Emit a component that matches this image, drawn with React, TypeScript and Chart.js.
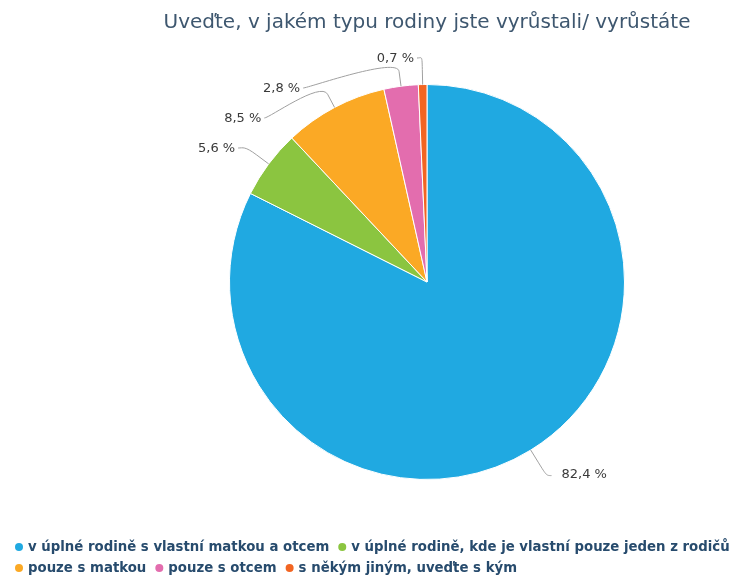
import { useEffect, useRef } from "react";
import { Chart, registerables } from "chart.js";

Chart.register(...registerables);

const TITLE = "Uveďte, v jakém typu rodiny jste vyrůstali/ vyrůstáte";
const CATEGORIES = [
  "v úplné rodině s vlastní matkou a otcem",
  "v úplné rodině, kde je vlastní pouze jeden z rodičů",
  "pouze s matkou",
  "pouze s otcem",
  "s někým jiným, uveďte s kým",
];
const VALUES = [82.4, 5.6, 8.5, 2.8, 0.7];
const VALUE_LABELS = ["82,4 %", "5,6 %", "8,5 %", "2,8 %", "0,7 %"];
const COLORS = ["#20A9E1", "#8BC540", "#FBA925", "#E36DAE", "#F26522"];

const TITLE_FONT = "20px 'DejaVu Sans', sans-serif";
const TITLE_COLOR = "#3E576F";
const LEGEND_FONT = "bold 13.3px 'DejaVu Sans', sans-serif";
const LEGEND_COLOR = "#274B6D";
const LABEL_FONT = "13px 'DejaVu Sans', sans-serif";
const LABEL_COLOR = "#3A3A3A";
const CONNECTOR_COLOR = "#A0A0A0";

const overlayPlugin = {
  id: "overlay",
  afterDraw(chart: any) {
    const ctx: CanvasRenderingContext2D = chart.ctx;
    const W = chart.width;
    const meta = chart.getDatasetMeta(0);
    const arcs = meta.data as any[];
    if (!arcs.length) return;
    const cx = arcs[0].x;
    const cy = arcs[0].y;
    const r = arcs[0].outerRadius;

    // Title
    ctx.save();
    ctx.font = TITLE_FONT;
    ctx.fillStyle = TITLE_COLOR;
    ctx.textAlign = "center";
    ctx.textBaseline = "alphabetic";
    ctx.fillText(TITLE, cx, 28);
    ctx.restore();

    // Data labels with connectors (Highcharts-like layout)
    const DIST = 30;
    const R = r + DIST;
    const TOP_LIMIT = 58;
    const SLOT = 30;
    type L = { i: number; mid: number; ny: number; nx: number; y: number; x: number; left: boolean };
    const items: L[] = arcs.map((a: any, i: number) => {
      const mid = (a.startAngle + a.endAngle) / 2;
      return {
        i,
        mid,
        nx: cx + Math.cos(mid) * R,
        ny: cy + Math.sin(mid) * R,
        y: 0,
        x: 0,
        left: Math.cos(mid) < 0,
      };
    });
    [true, false].forEach((side) => {
      const group = items.filter((it) => it.left === side).sort((a, b) => a.ny - b.ny);
      let prev = -Infinity;
      group.forEach((it, k) => {
        const y = Math.max(it.ny, prev + SLOT, TOP_LIMIT);
        it.y = y;
        prev = y;
        const dy = y - cy;
        const dx = Math.sqrt(Math.max(R * R - dy * dy, 0));
        if (k === 0 && y !== it.ny) {
          it.x = it.nx;
        } else {
          it.x = cx + (side ? -dx : dx);
        }
      });
    });

    items.forEach((it) => {
      const a = arcs[it.i];
      const cos = Math.cos(it.mid);
      const sin = Math.sin(it.mid);
      const bx = cx + cos * a.outerRadius;
      const by = cy + sin * a.outerRadius;
      const b2x = cx + cos * (a.outerRadius + 15);
      const b2y = cy + sin * (a.outerRadius + 15);
      const sx = it.x + (it.left ? -5 : 5);
      ctx.save();
      ctx.strokeStyle = CONNECTOR_COLOR;
      ctx.lineWidth = 1;
      ctx.beginPath();
      ctx.moveTo(sx, it.y);
      ctx.bezierCurveTo(it.x, it.y, 2 * b2x - bx, 2 * b2y - by, b2x, b2y);
      ctx.lineTo(bx, by);
      ctx.stroke();
      ctx.font = LABEL_FONT;
      ctx.fillStyle = LABEL_COLOR;
      ctx.textBaseline = "middle";
      if (it.left) {
        ctx.textAlign = "right";
        ctx.fillText(VALUE_LABELS[it.i], it.x - 8, it.y + 1);
      } else {
        ctx.textAlign = "left";
        ctx.fillText(VALUE_LABELS[it.i], it.x + 15, it.y - 1);
      }
      ctx.restore();
    });

    // Legend
    ctx.save();
    ctx.font = LEGEND_FONT;
    ctx.textBaseline = "middle";
    ctx.textAlign = "left";
    const startX = 15;
    const rowY0 = 547;
    const rowH = 21;
    const maxX = W - 1;
    let row = 0;
    let x = startX;
    CATEGORIES.forEach((cat, i) => {
      const tw = ctx.measureText(cat).width;
      const itemW = 13 + tw;
      if (x + itemW > maxX && x > startX) {
        row += 1;
        x = startX;
      }
      const y = rowY0 + row * rowH;
      ctx.fillStyle = COLORS[i];
      ctx.beginPath();
      ctx.arc(x + 4, y, 4, 0, Math.PI * 2);
      ctx.fill();
      ctx.fillStyle = LEGEND_COLOR;
      ctx.fillText(cat, x + 13, y + 1);
      x += itemW + 9;
    });
    ctx.restore();
  },
};

export default function App() {
  const ref = useRef<HTMLCanvasElement | null>(null);
  useEffect(() => {
    if (!ref.current) return;
    const chart = new Chart(ref.current, {
      type: "pie",
      data: {
        labels: CATEGORIES,
        datasets: [
          {
            data: VALUES,
            backgroundColor: COLORS,
            borderColor: "#FFFFFF",
            borderWidth: 1,
          },
        ],
      },
      options: {
        responsive: false,
        animation: false,
        layout: { padding: { left: 229, right: 106, top: 84, bottom: 98 } },
        plugins: {
          legend: { display: false },
          title: { display: false },
          tooltip: { enabled: false },
        },
      },
      plugins: [overlayPlugin],
    });
    return () => chart.destroy();
  }, []);
  return (
    <div style={{ position: "absolute", left: 0, top: 0, width: 731, height: 578, background: "#fff" }}>
      <canvas ref={ref} width={731} height={578} />
    </div>
  );
}
